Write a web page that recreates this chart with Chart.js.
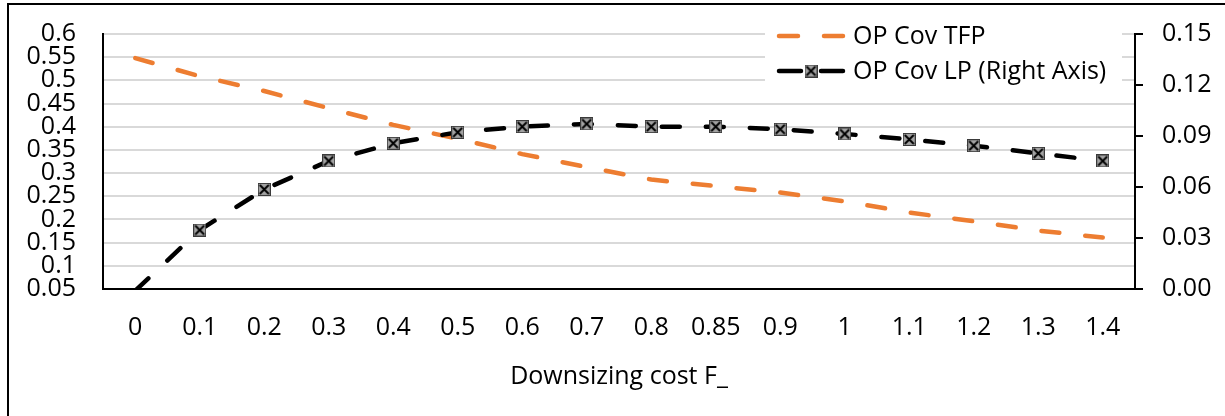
<!DOCTYPE html>
<html>
<head>
<meta charset="utf-8">
<script src="https://cdn.jsdelivr.net/npm/chart.js@4.4.1/dist/chart.umd.min.js"></script>
<style>
  html, body { margin: 0; padding: 0; background: #fff; }
  #wrap { position: relative; width: 1225px; height: 416px; }
</style>
</head>
<body>
<div id="wrap"><canvas id="c"></canvas></div>
<script>
// ---- data ----
const categories = ['0', '0.1', '0.2', '0.3', '0.4', '0.5', '0.6', '0.7', '0.8', '0.85', '0.9', '1', '1.1', '1.2', '1.3', '1.4'];
const tfpValues = [0.548, 0.509, 0.477, 0.440, 0.404, 0.374, 0.341, 0.313, 0.286, 0.272, 0.258, 0.239, 0.215, 0.196, 0.176, 0.161];
const lpValues  = [-0.001, 0.0347, 0.0586, 0.0753, 0.0857, 0.0922, 0.0955, 0.0971, 0.0955, 0.0955, 0.0940, 0.0912, 0.0880, 0.0843, 0.0798, 0.0753];
const leftTickValues  = [0.05, 0.1, 0.15, 0.2, 0.25, 0.3, 0.35, 0.4, 0.45, 0.5, 0.55, 0.6];
const rightTickValues = [0, 0.03, 0.06, 0.09, 0.12, 0.15];
const seriesNames = ['OP Cov TFP', 'OP Cov LP (Right Axis)'];
const xTitle = 'Downsizing cost F_';

const FONT = "'Open Sans', 'Noto Sans', sans-serif";
const FS = 25;
const ORANGE = '#ED7D31';

function makeMarker() {
  const c = document.createElement('canvas');
  c.width = 13; c.height = 13;
  const g = c.getContext('2d');
  g.fillStyle = '#a3a3a3';
  g.fillRect(0, 0, 13, 13);
  g.strokeStyle = '#3a3a3a';
  g.lineWidth = 1;
  g.strokeRect(0.5, 0.5, 12, 12);
  g.strokeStyle = '#000';
  g.lineWidth = 2;
  g.beginPath();
  g.moveTo(2, 2); g.lineTo(11, 11);
  g.moveTo(11, 2); g.lineTo(2, 11);
  g.stroke();
  return c;
}
const marker = makeMarker();

const framePlugin = {
  id: 'frame',
  beforeDraw(chart) {
    const ctx = chart.ctx;
    ctx.save();
    ctx.fillStyle = '#000';
    ctx.fillRect(7, 3, 1218, 2);
    ctx.fillRect(7, 3, 2, 413);
    ctx.restore();
  }
};

const legendPlugin = {
  id: 'customLegend',
  afterDraw(chart) {
    const ctx = chart.ctx;
    ctx.save();
    ctx.fillStyle = '#fff';
    ctx.fillRect(765, 24, 357, 64);
    ctx.lineCap = 'round';
    ctx.lineWidth = 4.5;
    ctx.strokeStyle = ORANGE;
    ctx.beginPath();
    ctx.moveTo(779, 36); ctx.lineTo(798, 36);
    ctx.moveTo(824, 36); ctx.lineTo(843, 36);
    ctx.stroke();
    ctx.strokeStyle = '#000';
    ctx.beginPath();
    ctx.moveTo(779, 71); ctx.lineTo(801, 71);
    ctx.moveTo(821, 71); ctx.lineTo(843, 71);
    ctx.stroke();
    ctx.drawImage(marker, 811 - 6.5, 71 - 6.5);
    ctx.fillStyle = '#000';
    ctx.font = FS + 'px ' + FONT;
    ctx.textAlign = 'left';
    ctx.textBaseline = 'middle';
    ctx.fillText(seriesNames[0], 853, 37);
    ctx.fillText(seriesNames[1], 853, 72);
    ctx.restore();
  }
};

function noVPad(s) { s.paddingTop = 0; s.paddingBottom = 0; }

new Chart(document.getElementById('c'), {
  type: 'line',
  data: {
    labels: categories,
    datasets: [
      {
        label: seriesNames[0],
        data: tfpValues,
        yAxisID: 'y',
        borderColor: ORANGE,
        borderWidth: 4.5,
        borderDash: [18, 26],
        borderCapStyle: 'round',
        pointRadius: 0,
        tension: 0,
        fill: false,
        order: 1
      },
      {
        label: seriesNames[1],
        data: lpValues,
        yAxisID: 'y1',
        borderColor: '#000',
        borderWidth: 4.5,
        borderDash: [18, 26],
        borderCapStyle: 'round',
        pointStyle: marker,
        pointRadius: c => (c.raw < 0 ? 0 : 6.5),
        tension: 0,
        fill: false,
        clip: 0,
        order: 0
      }
    ]
  },
  options: {
    responsive: true,
    maintainAspectRatio: false,
    animation: false,
    events: [],
    layout: { autoPadding: false, padding: { left: 0, right: 0, top: 34, bottom: 0 } },
    plugins: { legend: { display: false }, tooltip: { enabled: false } },
    scales: {
      x: {
        type: 'category',
        offset: true,
        grid: { display: false, drawTicks: false },
        border: { display: true, color: '#000', width: 2 },
        ticks: { color: '#000', font: { family: FONT, size: FS }, padding: 24, autoSkip: false, maxRotation: 0 },
        title: { display: true, text: xTitle, color: '#000', font: { family: FONT, size: FS }, padding: { top: 0, bottom: 24 } },
        afterFit(s) { s.height = 416 - 289; s.paddingLeft = 0; s.paddingRight = 0; }
      },
      y: {
        position: 'left',
        min: leftTickValues[0],
        max: leftTickValues[leftTickValues.length - 1],
        afterBuildTicks(s) { s.ticks = leftTickValues.map(v => ({ value: v })); },
        grid: { color: '#d9d9d9', lineWidth: 2, drawTicks: false },
        border: { display: true, color: '#000', width: 2 },
        ticks: {
          color: '#000', font: { family: FONT, size: FS }, padding: 27, autoSkip: false,
          callback: v => String(+(+v).toFixed(2))
        },
        afterFit(s) { s.width = 103; noVPad(s); }
      },
      y1: {
        position: 'right',
        min: rightTickValues[0],
        max: rightTickValues[rightTickValues.length - 1],
        afterBuildTicks(s) { s.ticks = rightTickValues.map(v => ({ value: v })); },
        grid: { drawOnChartArea: false, drawTicks: true, tickLength: 8, color: '#000', lineWidth: 2 },
        border: { display: true, color: '#000', width: 2 },
        ticks: {
          color: '#000', font: { family: FONT, size: FS }, padding: 19, autoSkip: false,
          callback: v => (+v).toFixed(2)
        },
        afterFit(s) { s.width = 1225 - 1135; noVPad(s); }
      }
    }
  },
  plugins: [framePlugin, legendPlugin]
});
</script>
</body>
</html>
